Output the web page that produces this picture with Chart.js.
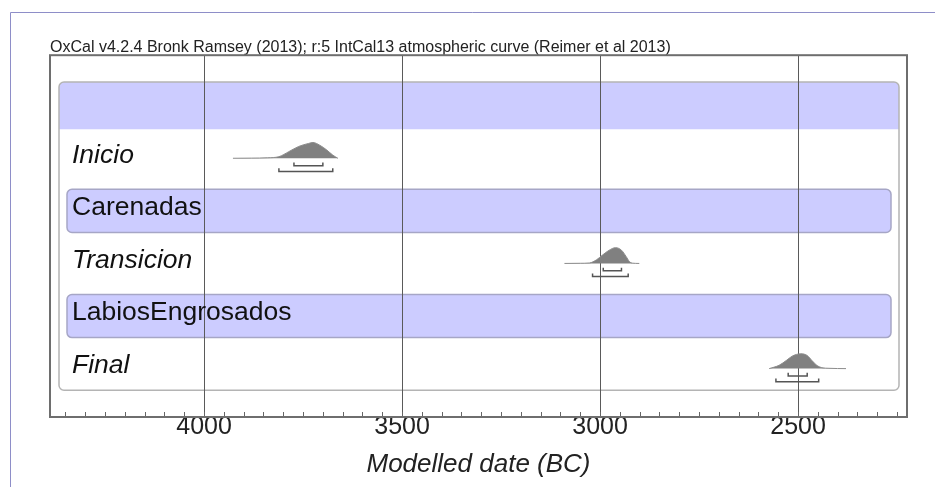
<!DOCTYPE html>
<html>
<head>
<meta charset="utf-8">
<script src="https://cdn.jsdelivr.net/npm/chart.js@4.4.0/dist/chart.umd.min.js"></script>
<style>
  html, body { margin: 0; padding: 0; background: #fff; }
  canvas { display: block; }
</style>
</head>
<body>
<canvas id="oxcal" width="935" height="487"></canvas>
<script>
const titleText = 'OxCal v4.2.4 Bronk Ramsey (2013); r:5 IntCal13 atmospheric curve (Reimer et al 2013)';
const axisTitle = 'Modelled date (BC)';

// rows, top to bottom
const rowLabels = ['', 'Inicio', 'Carenadas', 'Transicion', 'LabiosEngrosados', 'Final'];
const rowKinds = ['sequence', 'boundary', 'phase', 'boundary', 'phase', 'boundary'];

// posterior densities: years BC and relative height
const inicioYears = [3927, 3880, 3840, 3811, 3786, 3761, 3736, 3725, 3708, 3690, 3675, 3662];
const inicioDensity = [0, 0.01, 0.03, 0.1, 0.42, 0.75, 0.94, 1, 0.83, 0.52, 0.2, 0];
const transicionYears = [3090, 3050, 3027, 3009, 2994, 2977, 2961, 2946, 2934, 2926, 2919, 2901];
const transicionDensity = [0, 0.01, 0.03, 0.23, 0.53, 0.84, 1, 0.84, 0.43, 0.12, 0.02, 0];
const finalYears = [2573, 2548, 2530, 2515, 2493, 2477, 2465, 2452, 2440, 2422, 2379];
const finalDensity = [0, 0.21, 0.51, 0.79, 0.94, 0.83, 0.51, 0.19, 0.06, 0.02, 0];

// highest posterior density ranges (68.2% and 95.4%)
const inicioRange68 = [3773, 3700];
const inicioRange95 = [3811, 3675];
const transicionRange68 = [2992, 2946];
const transicionRange95 = [3019, 2929];
const finalRange68 = [2525, 2477];
const finalRange95 = [2556, 2448];

const events = [
  { row: 2, years: inicioYears, density: inicioDensity, r68: inicioRange68, r95: inicioRange95 },
  { row: 4, years: transicionYears, density: transicionDensity, r68: transicionRange68, r95: transicionRange95 },
  { row: 6, years: finalYears, density: finalDensity, r68: finalRange68, r95: finalRange95 },
];

const FONT = "'Liberation Sans', Arial, Helvetica, sans-serif";
const PEAK = 0.3; // row units for density = 1

const bracket = (range, row, off) => {
  const yb = row + off;
  return [
    { x: range[0], y: yb - 0.06 },
    { x: range[0], y: yb },
    { x: range[1], y: yb },
    { x: range[1], y: yb - 0.06 },
  ];
};

const datasets = [];
events.forEach(ev => {
  datasets.push({
    data: ev.years.map((yr, i) => ({ x: yr, y: ev.row - ev.density[i] * PEAK })),
    fill: { value: ev.row },
    backgroundColor: '#808080',
    borderColor: '#8c8c8c',
    borderWidth: 1,
    cubicInterpolationMode: 'monotone',
    pointRadius: 0,
  });
  datasets.push({
    data: bracket(ev.r68, ev.row, 0.14),
    borderColor: '#555',
    borderWidth: 1.5,
    fill: false,
    pointRadius: 0,
  });
  datasets.push({
    data: bracket(ev.r95, ev.row, 0.25),
    borderColor: '#555',
    borderWidth: 1.5,
    fill: false,
    pointRadius: 0,
  });
});

const oxcalFrame = {
  id: 'oxcalFrame',
  beforeDraw(chart) {
    const { ctx, chartArea: a, scales: { y } } = chart;
    ctx.save();
    ctx.fillStyle = '#fff';
    ctx.fillRect(0, 0, chart.width, chart.height);

    // page border
    ctx.strokeStyle = '#8e8ec8';
    ctx.lineWidth = 1;
    ctx.beginPath();
    ctx.moveTo(10.5, chart.height);
    ctx.lineTo(10.5, 12.5);
    ctx.lineTo(chart.width, 12.5);
    ctx.stroke();

    const x0 = a.left + 9, x1 = a.right - 8;
    const top = y.getPixelForValue(1 - 0.45);
    const headBottom = y.getPixelForValue(1 + 0.45);
    const bottom = y.getPixelForValue(rowLabels.length + 0.41);

    // sequence header
    ctx.fillStyle = '#ccccff';
    ctx.beginPath();
    ctx.roundRect(x0, top, x1 - x0, headBottom - top, [5, 5, 0, 0]);
    ctx.fill();
    ctx.strokeStyle = '#b4b4b4';
    ctx.lineWidth = 1.5;
    ctx.beginPath();
    ctx.roundRect(x0, top, x1 - x0, bottom - top, 5);
    ctx.stroke();

    // phases
    rowKinds.forEach((k, i) => {
      if (k !== 'phase') return;
      const t = y.getPixelForValue(i + 1 - 0.41);
      const b = y.getPixelForValue(i + 1 + 0.41);
      ctx.beginPath();
      ctx.roundRect(a.left + 17, t, a.right - a.left - 33, b - t, 5);
      ctx.fillStyle = '#ccccff';
      ctx.fill();
      ctx.strokeStyle = '#a6a6c6';
      ctx.lineWidth = 1.5;
      ctx.stroke();
    });
    ctx.restore();
  },
  afterDraw(chart) {
    const { ctx, chartArea: a, scales: { x } } = chart;
    ctx.save();
    ctx.strokeStyle = '#666';
    ctx.lineWidth = 1;
    ctx.beginPath();
    x.ticks.forEach(t => {
      const px = Math.round(x.getPixelForValue(t.value)) + 0.5;
      ctx.moveTo(px, a.bottom);
      ctx.lineTo(px, a.bottom - 5);
    });
    ctx.stroke();
    ctx.strokeStyle = '#6e6e6e';
    ctx.lineWidth = 2;
    ctx.strokeRect(a.left, a.top, a.right - a.left, a.bottom - a.top);
    ctx.restore();
  },
};

Chart.defaults.font.family = FONT;

new Chart(document.getElementById('oxcal'), {
  type: 'line',
  data: { datasets },
  plugins: [oxcalFrame],
  options: {
    responsive: false,
    animation: false,
    devicePixelRatio: 1,
    layout: { padding: { left: 50, right: 28, top: 0, bottom: 0 } },
    plugins: {
      legend: { display: false },
      tooltip: { enabled: false },
      title: {
        display: true,
        text: titleText,
        align: 'start',
        color: '#222',
        font: { size: 16, weight: 'normal', lineHeight: 0.95 },
        padding: { top: 40, bottom: 0 },
      },
    },
    scales: {
      x: {
        type: 'linear',
        reverse: true,
        min: 2225,
        max: 4389,
        z: 1,
        afterFit: s => { s.height = 70; s.paddingLeft = 0; s.paddingRight = 0; },
        grid: {
          drawTicks: false,
          color: c => (c.tick && c.tick.value % 500 === 0 ? '#5a5a5a' : 'rgba(0,0,0,0)'),
          lineWidth: 1,
        },
        border: { display: false },
        ticks: {
          stepSize: 50,
          includeBounds: false,
          autoSkip: false,
          maxRotation: 0,
          padding: -5,
          color: '#222',
          font: { size: 25 },
          callback: v => (v % 500 === 0 ? String(v) : ''),
        },
        title: {
          display: true,
          text: axisTitle,
          color: '#222',
          font: { size: 26, style: 'italic' },
          padding: { top: 0, bottom: 7 },
        },
      },
      y: {
        type: 'linear',
        reverse: true,
        min: 0.04,
        max: 6.92,
        afterFit: s => { s.width = 0; s.paddingTop = 0; s.paddingBottom = 0; },
        // labels sit slightly above the row centre line
        afterBuildTicks: s => { s.ticks = rowLabels.map((_, i) => ({ value: i + 1 - 0.055 })); },
        grid: { display: false, drawTicks: false },
        border: { display: false },
        ticks: {
          mirror: true,
          padding: 22,
          autoSkip: false,
          color: '#111',
          font: c => ({ size: 26.5, style: rowKinds[c.index] === 'boundary' ? 'italic' : 'normal' }),
          callback: (v, i) => rowLabels[i],
        },
      },
    },
  },
});
</script>
</body>
</html>
